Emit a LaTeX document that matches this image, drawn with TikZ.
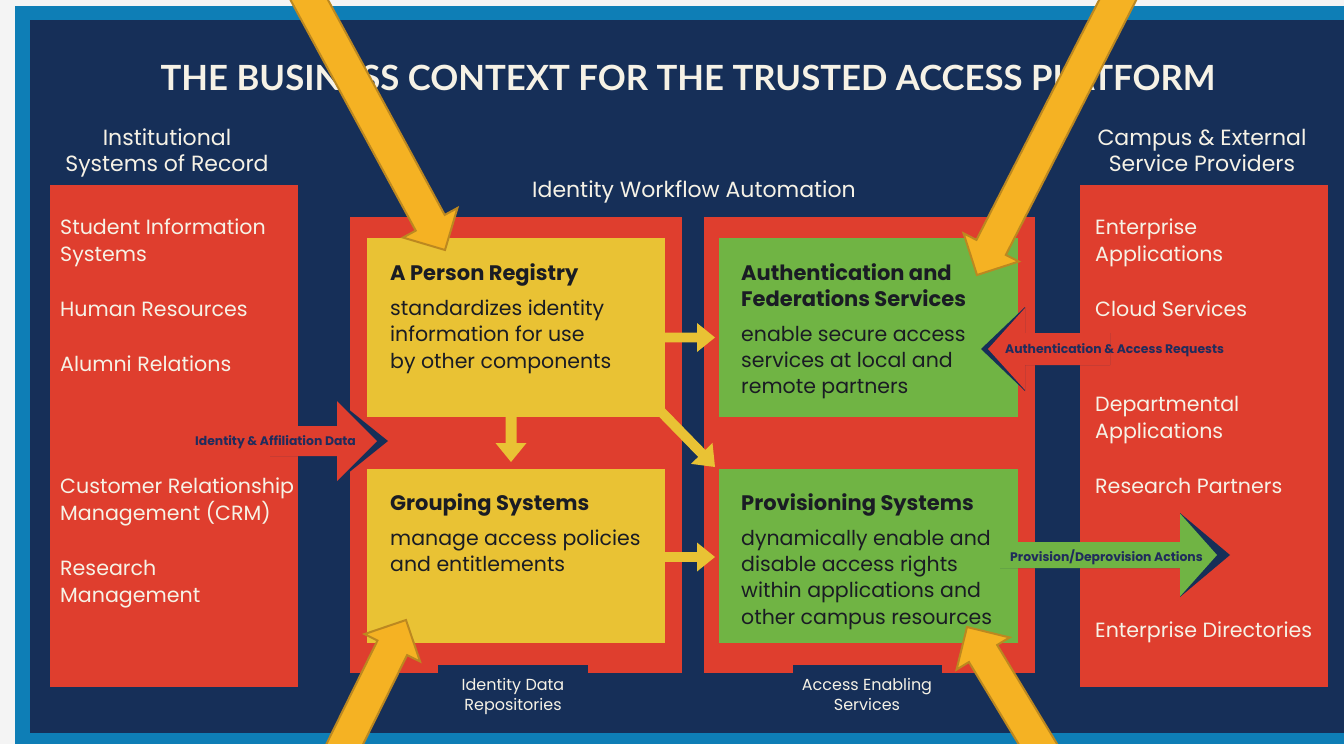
\documentclass[tikz,border=0pt]{standalone}
\usepackage{fontspec}
\setmainfont{Poppins}
\newfontfamily\titlefont{Lato}
\usetikzlibrary{calc,positioning}

\definecolor{tapnavy}{RGB}{22,47,88}
\definecolor{tapblue}{RGB}{14,126,182}
\definecolor{tapred}{RGB}{223,62,46}
\definecolor{tapyellow}{RGB}{233,194,52}
\definecolor{tapgreen}{RGB}{112,180,68}
\definecolor{tapgold}{RGB}{245,178,35}
\definecolor{tapgoldline}{RGB}{188,136,32}
\definecolor{tapcream}{RGB}{246,242,230}
\definecolor{tapink}{RGB}{26,28,36}
\definecolor{taplabel}{RGB}{32,44,92}
\definecolor{tapback}{RGB}{244,244,244}

% block arrow: [style]{from}{to}{shaft half width}{head length}{head half width}
\newcommand{\blockarrow}[6][]{%
  \coordinate (ba-h) at ($(#3)!#5!(#2)$);
  \path[#1] ($(#2)!#4!90:(#3)$) -- ($(ba-h)!#4!90:(#3)$) -- ($(ba-h)!#6!90:(#3)$) -- (#3)
    -- ($(ba-h)!#6!-90:(#3)$) -- ($(ba-h)!#4!-90:(#3)$) -- ($(#2)!#4!-90:(#3)$) -- cycle;}

\begin{document}
\begin{tikzpicture}[x=1pt,y=-1pt,
    block/.style={inner sep=0pt, outer sep=0pt, anchor=north west},
    head/.style={text=tapcream, align=center, inner sep=0pt, anchor=base,
        font=\fontsize{22}{26}\selectfont},
    item/.style={text=tapcream, align=left, inner sep=0pt, anchor=base west,
        font=\fontsize{20.6}{27.3}\selectfont},
    boxhead/.style={text=tapink, align=left, inner sep=0pt, anchor=base west,
        font=\fontsize{21}{26}\bfseries},
    boxbody/.style={text=tapink, align=left, inner sep=0pt, anchor=base west,
        font=\fontsize{20.5}{26.4}\selectfont},
    flowlabel/.style={text=taplabel, inner sep=0pt, anchor=base west,
        font=\fontsize{12.4}{14}\bfseries},
    tablabel/.style={text=tapcream, align=center, inner sep=0pt, anchor=base,
        font=\fontsize{16}{20}\selectfont},
    smallarrow/.style={fill=tapyellow},
    goldarrow/.style={fill=tapgold, draw=tapgoldline, line width=2pt, line join=miter}
  ]
  \useasboundingbox (0,0) rectangle (1344,744);
  \clip (0,0) rectangle (1344,744);
  \fill[tapback] (0,0) rectangle (1344,744);
  \fill[tapblue] (15,6) rectangle (1344,744);
  \fill[tapnavy] (30,20) rectangle (1344,733);

  \node[text=tapcream, anchor=base, inner sep=0pt, font=\fontsize{34.7}{40}\titlefont\bfseries] (title)
    at (688,90) {THE BUSINESS CONTEXT FOR THE TRUSTED ACCESS PLATFORM};

  % systems of record and service providers
  \node[head] (sorhead) at (167,171) {Institutional\\Systems of Record};
  \node[head] (sphead) at (1202,171) {Campus \& External\\Service Providers};
  \node[head] (iwa) at (694,197) {Identity Workflow Automation};

  \node[block, fill=tapred, minimum width=248pt, minimum height=502pt] (sor) at (50,185) {};
  \node[block, fill=tapred, minimum width=248pt, minimum height=502pt] (sp) at (1080,185) {};

  \node[block, fill=tapred, minimum width=332pt, minimum height=456pt] (idr) at (350,217) {};
  \node[block, fill=tapred, minimum width=331pt, minimum height=456pt] (aes) at (704,217) {};
  \node[block, fill=tapnavy, minimum width=150pt, minimum height=10pt] (idrtab) at (438,665) {};
  \node[block, fill=tapnavy, minimum width=149pt, minimum height=10pt] (aestab) at (793,665) {};
  \node[tablabel] at (513,710) {Identity Data\\Repositories};
  \node[tablabel] at (867,710) {Access Enabling\\Services};

  \node[block, fill=tapyellow, minimum width=298pt, minimum height=179pt] (reg) at (367,238) {};
  \node[block, fill=tapyellow, minimum width=298pt, minimum height=174pt] (grp) at (367,469) {};
  \node[block, fill=tapgreen, minimum width=299pt, minimum height=179pt] (auth) at (719,238) {};
  \node[block, fill=tapgreen, minimum width=299pt, minimum height=174pt] (prov) at (719,469) {};

  \node[boxhead] at (390,280) {A Person Registry};
  \node[boxbody] at (390,368) {standardizes identity\\information for use\\by other components};
  \node[boxhead] at (390,510) {Grouping Systems};
  \node[boxbody] at (390,571.4) {manage access policies\\and entitlements};
  \node[boxhead] at (741,306) {Authentication and\\Federations Services};
  \node[boxbody] at (741,393.8) {enable secure access\\services at local and\\remote partners};
  \node[boxhead] at (741,510) {Provisioning Systems};
  \node[boxbody] at (741,624.2) {dynamically enable and\\disable access rights\\within applications and\\other campus resources};

  \node[item] at (60,261.3) {Student Information\\Systems};
  \node[item] at (60,316) {Human Resources};
  \node[item] at (60,371) {Alumni Relations};
  \node[item] at (60,520.3) {Customer Relationship\\Management (CRM)};
  \node[item] at (60,602.3) {Research\\Management};

  \node[item] at (1095,261.3) {Enterprise\\Applications};
  \node[item] at (1095,316) {Cloud Services};
  \node[item] at (1095,438.3) {Departmental\\Applications};
  \node[item] at (1095,493) {Research Partners};
  \node[item] at (1095,637) {Enterprise Directories};

  % flows inside identity workflow automation
  \coordinate (reg-out) at (650,337.5);
  \coordinate (auth-in) at (715,337.5);
  \coordinate (grp-out) at (650,557);
  \coordinate (prov-in) at (715,557);
  \coordinate (reg-down) at (511,410);
  \coordinate (grp-top) at (511,462);
  \coordinate (reg-corner) at (640,390);
  \coordinate (prov-corner) at (715,467);
  \blockarrow[smallarrow]{reg-out}{auth-in}{4.8pt}{18pt}{14.5pt}
  \blockarrow[smallarrow]{grp-out}{prov-in}{4.8pt}{18pt}{14.5pt}
  \blockarrow[smallarrow]{reg-down}{grp-top}{5.5pt}{19pt}{15.5pt}
  \blockarrow[smallarrow]{reg-corner}{prov-corner}{5pt}{19pt}{15pt}

  % flows between the columns
  \coordinate (sor-out) at (270,441);
  \coordinate (idr-tip) at (388,441);
  \coordinate (idr-in) at (377,441);
  \blockarrow[fill=tapnavy]{sor-out}{idr-tip}{15pt}{51pt}{41pt}
  \blockarrow[fill=tapred]{sor-out}{idr-in}{15pt}{40pt}{40pt}
  \node[flowlabel] at (195,445) {Identity \& Affiliation Data};

  \coordinate (sp-out) at (1110,349);
  \coordinate (auth-tip) at (981,349);
  \coordinate (auth-req) at (988,349);
  \blockarrow[fill=tapnavy]{sp-out}{auth-tip}{16pt}{44pt}{42pt}
  \blockarrow[fill=tapred]{sp-out}{auth-req}{16pt}{37pt}{41pt}
  \node[flowlabel] at (1005,353) {Authentication \& Access Requests};

  \coordinate (prov-out) at (1000,555);
  \coordinate (sp-tip) at (1230,555);
  \coordinate (sp-in) at (1217,555);
  \blockarrow[fill=tapnavy]{prov-out}{sp-tip}{13pt}{50pt}{42pt}
  \blockarrow[fill=tapgreen]{prov-out}{sp-in}{13pt}{37pt}{41.5pt}
  \node[flowlabel] at (1010,561) {Provision/Deprovision Actions};

  % highlight arrows
  \coordinate (top-left) at (293,-30);
  \coordinate (top-right) at (1133,-30);
  \coordinate (bot-left) at (330,774);
  \coordinate (bot-right) at (1056,774);
  \coordinate (reg-hit) at (445,250);
  \coordinate (auth-hit) at (977,275);
  \coordinate (grp-hit) at (406,620);
  \coordinate (prov-hit) at (967,627);
  \blockarrow[goldarrow]{top-left}{reg-hit}{16.5pt}{31pt}{31pt}
  \blockarrow[goldarrow]{top-right}{auth-hit}{16.5pt}{31pt}{31pt}
  \blockarrow[goldarrow]{bot-left}{grp-hit}{16.5pt}{31pt}{31pt}
  \blockarrow[goldarrow]{bot-right}{prov-hit}{16.5pt}{31pt}{31pt}
\end{tikzpicture}
\end{document}
